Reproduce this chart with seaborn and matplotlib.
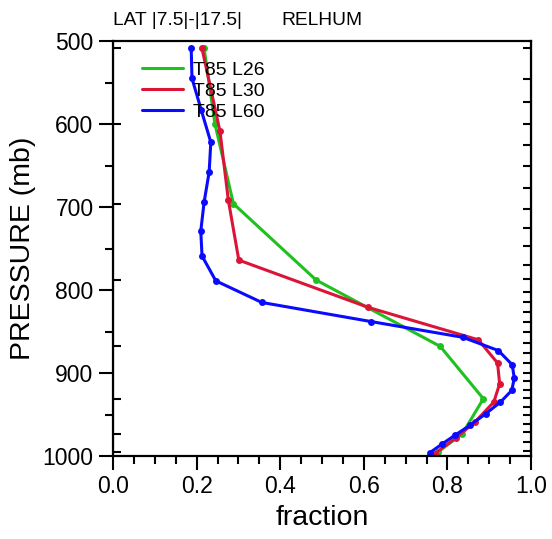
import numpy as np
import pandas as pd
import matplotlib
matplotlib.use("Agg")
import matplotlib.pyplot as plt
import seaborn as sns

# ---- data ----
models = ["T85 L26", "T85 L30", "T85 L60"]

l26_frac = [0.218, 0.244, 0.288, 0.486, 0.783, 0.886, 0.836, 0.778]
l26_pres = [509, 600, 696, 788, 868, 931, 973, 995]

l30_frac = [0.213, 0.256, 0.276, 0.301, 0.611, 0.874, 0.920, 0.925, 0.911, 0.866, 0.821, 0.770]
l30_pres = [509, 609, 692, 764, 821, 860, 888, 913, 935, 959, 978, 997]

l60_frac = [0.187, 0.189, 0.211, 0.234, 0.230, 0.218, 0.210, 0.213, 0.246, 0.356, 0.617,
            0.837, 0.922, 0.955, 0.960, 0.954, 0.927, 0.892, 0.854, 0.818, 0.786, 0.758]
l60_pres = [508, 545, 583, 622, 658, 694, 729, 759, 789, 815, 838,
            857, 873, 890, 906, 921, 935, 949, 963, 975, 986, 996]

left_levels = [509, 600, 696, 788, 868, 931, 973, 995]
right_levels = [508, 546, 573, 600, 625, 651, 677, 702, 725, 747, 770, 787, 802, 814,
                826, 839, 851, 864, 876, 888, 900, 910, 920, 930, 941, 951, 961, 971,
                983, 994]

x_ticks = [0.0, 0.2, 0.4, 0.6, 0.8, 1.0]
x_labels = ["0.0", "0.2", "0.4", "0.6", "0.8", "1.0"]
y_ticks = [500, 600, 700, 800, 900, 1000]

colors = {"T85 L26": "#20c020", "T85 L30": "#dc1438", "T85 L60": "#0a0aff"}

rows = []
for m, fr, pr in zip(models, [l26_frac, l30_frac, l60_frac], [l26_pres, l30_pres, l60_pres]):
    for i, (f, p) in enumerate(zip(fr, pr)):
        rows.append({"model": m, "frac": f, "pres": p, "idx": i})
df = pd.DataFrame(rows)

sns.set_style("white")
plt.rcParams["font.family"] = ["Liberation Sans", "DejaVu Sans"]
plt.rcParams["text.color"] = "black"
plt.rcParams["axes.labelcolor"] = "black"
plt.rcParams["xtick.color"] = "black"
plt.rcParams["ytick.color"] = "black"

fig = plt.figure(figsize=(5.52, 5.39), dpi=100)
ax = fig.add_axes([113 / 552, 1 - 456 / 539, 418 / 552, 415 / 539])

sns.lineplot(data=df, x="frac", y="pres", hue="model", palette=colors, sort=False,
             estimator=None, marker="o", markersize=5, markeredgewidth=0,
             linewidth=2.2, ax=ax, legend=False)

ax.set_xlim(0, 1)
ax.set_ylim(1000, 500)
ax.set_xticks(x_ticks)
ax.set_xticklabels(x_labels)
ax.set_yticks(y_ticks)
ax.set_xticks(np.arange(0, 1.0001, 0.05), minor=True)
ax.set_yticks(np.arange(550, 1000, 100), minor=True)
ax.tick_params(axis="both", which="major", direction="out", length=10, width=1.5,
               labelsize=16.5, pad=4, bottom=True, left=True, top=False, right=False)
ax.tick_params(axis="both", which="minor", direction="out", length=6, width=1.5,
               bottom=True, left=True, top=False, right=False)
for s in ax.spines.values():
    s.set_linewidth(1.6)
    s.set_color("black")

ax.set_xlabel("fraction", fontsize=20.5, labelpad=5)
ax.set_ylabel("PRESSURE (mb)", fontsize=20.5, labelpad=5)

# inner level ticks
sl = ax.secondary_yaxis("left")
sl.set_yticks(left_levels)
sl.set_yticks([], minor=True)
sl.tick_params(direction="in", length=6, width=1.5, left=True, labelleft=False)
sr = ax.secondary_yaxis("right")
sr.set_yticks(right_levels)
sr.set_yticks([], minor=True)
sr.tick_params(direction="in", length=6, width=1.5, right=True, labelright=False)

# legend
for m in models:
    ax.plot([], [], color=colors[m], linewidth=2.2, label=m)
leg = ax.legend(loc="upper left", bbox_to_anchor=(0.05, 0.97), frameon=False,
                fontsize=14, handlelength=2.15, handletextpad=0.5, labelspacing=0.18,
                borderaxespad=0)

ax.text(0.0, 1.03, "LAT |7.5|-|17.5|", transform=ax.transAxes, ha="left",
        va="bottom", fontsize=13.8)
ax.text(0.5, 1.03, "RELHUM", transform=ax.transAxes, ha="center",
        va="bottom", fontsize=13.8)

fig.savefig("out.png", dpi=100)
